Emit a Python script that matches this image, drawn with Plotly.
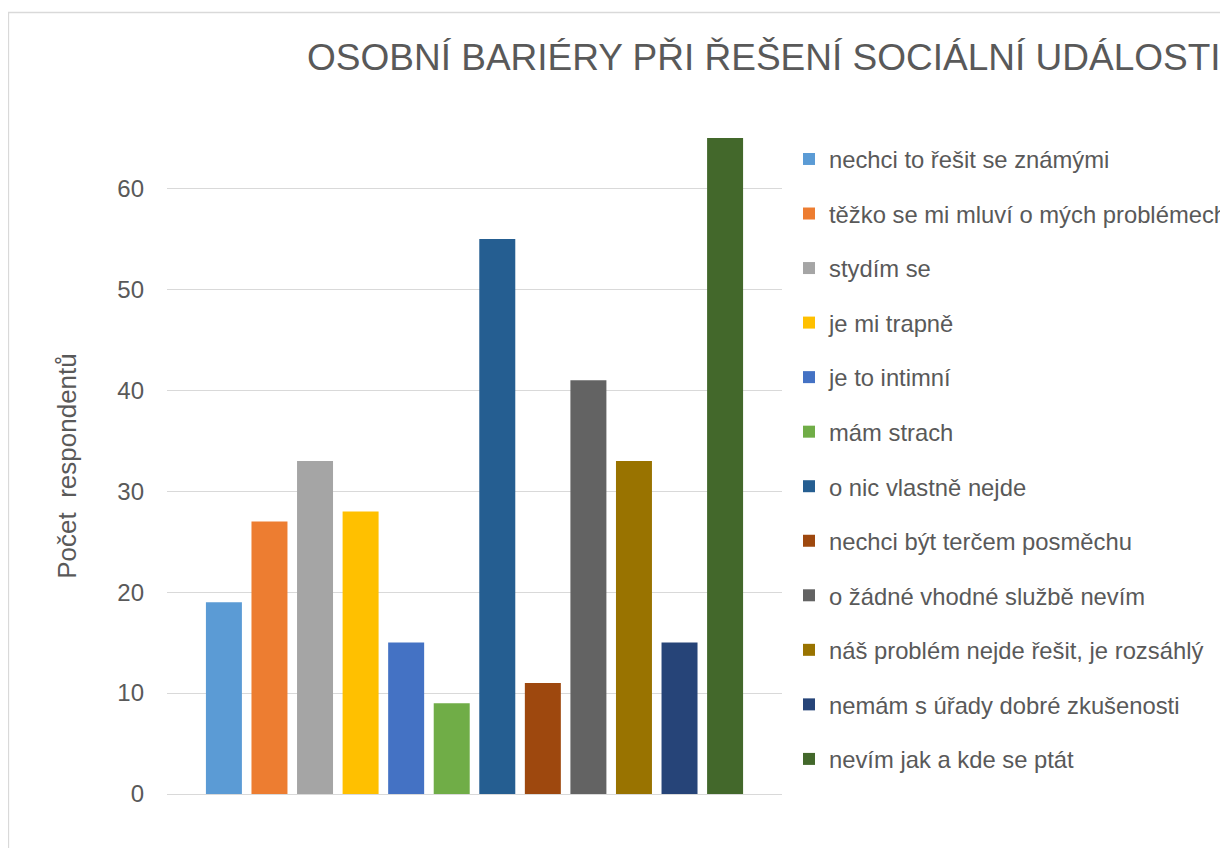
import plotly.graph_objects as go

# Data
group_label = "Osobní bariéry"
categories = [
    "nechci to řešit se známými",
    "těžko se mi mluví o mých problémech",
    "stydím se",
    "je mi trapně",
    "je to intimní",
    "mám strach",
    "o nic vlastně nejde",
    "nechci být terčem posměchu",
    "o žádné vhodné službě nevím",
    "náš problém nejde řešit, je rozsáhlý",
    "nemám s úřady dobré zkušenosti",
    "nevím jak a kde se ptát",
]
values = [19, 27, 33, 28, 15, 9, 55, 11, 41, 33, 15, 65]
colors = [
    "#5B9BD5", "#ED7D31", "#A5A5A5", "#FFC000", "#4472C4", "#70AD47",
    "#255E91", "#9E480E", "#636363", "#997300", "#264478", "#43682B",
]
y_ticks = [0, 10, 20, 30, 40, 50, 60]

# page body has an 8px margin, so the figure is 8px smaller on each side
W, H = 1220, 840
ML, MR, MT, MB = 159, 446, 130, 54
PW = W - ML - MR
PH = H - MT - MB

TEXT = "#595959"
GRID = "#D9D9D9"
FONT = "Liberation Sans, Arial, sans-serif"

fig = go.Figure()

for i, (name, val, col) in enumerate(zip(categories, values, colors)):
    fig.add_trace(go.Bar(
        x=[group_label],
        y=[val],
        name=name,
        legendgroup=f"g{i}",
        marker=dict(color=col, line=dict(width=0)),
        hovertemplate=f"{name}: %{{y}}<extra></extra>",
    ))

# Chart border (light gray frame, cut off on the right and bottom)
fig.add_shape(
    type="rect", xref="paper", yref="paper",
    x0=(0.5 - ML) / PW, x1=(W + 20 - ML) / PW,
    y0=-(MB + 20) / PH, y1=(H - MB - 4.5) / PH,
    line=dict(color=GRID, width=1.3), fillcolor="rgba(0,0,0,0)", layer="below",
)

fig.update_layout(
    width=W, height=H,
    margin=dict(l=ML, r=MR, t=MT, b=MB, pad=0, autoexpand=False),
    paper_bgcolor="white",
    plot_bgcolor="white",
    barmode="group",
    bargap=0.111,
    bargroupgap=0.21,
    font=dict(family=FONT, color=TEXT, size=24),
    title=dict(
        text="OSOBNÍ BARIÉRY PŘI ŘEŠENÍ SOCIÁLNÍ UDÁLOSTI",
        font=dict(family=FONT, size=37, color=TEXT),
        xref="container", yref="container",
        x=299 / W, xanchor="left",
        y=1 - 49 / H, yanchor="middle",
    ),
    legend=dict(
        xref="container", yref="container",
        x=781 / W, xanchor="left",
        y=1 - 129 / H, yanchor="top",
        traceorder="grouped",
        tracegroupgap=20.6,
        maxheight=720,
        font=dict(family=FONT, size=23.8, color=TEXT),
        bgcolor="rgba(0,0,0,0)",
    ),
    showlegend=True,
)

fig.update_xaxes(
    showticklabels=False, showgrid=False, showline=False, zeroline=False,
    ticks="", fixedrange=True,
)
fig.update_yaxes(
    range=[0, 65],
    tickvals=y_ticks,
    showgrid=True, gridcolor=GRID, gridwidth=1,
    zeroline=True, zerolinecolor=GRID, zerolinewidth=1,
    showline=False, ticks="",
    ticklabelstandoff=22,
    tickfont=dict(family=FONT, size=24, color=TEXT),
    title=dict(
        text="Počet  respondentů",
        font=dict(family=FONT, size=26, color=TEXT),
        standoff=33,
    ),
)

fig.write_html("out.html")
